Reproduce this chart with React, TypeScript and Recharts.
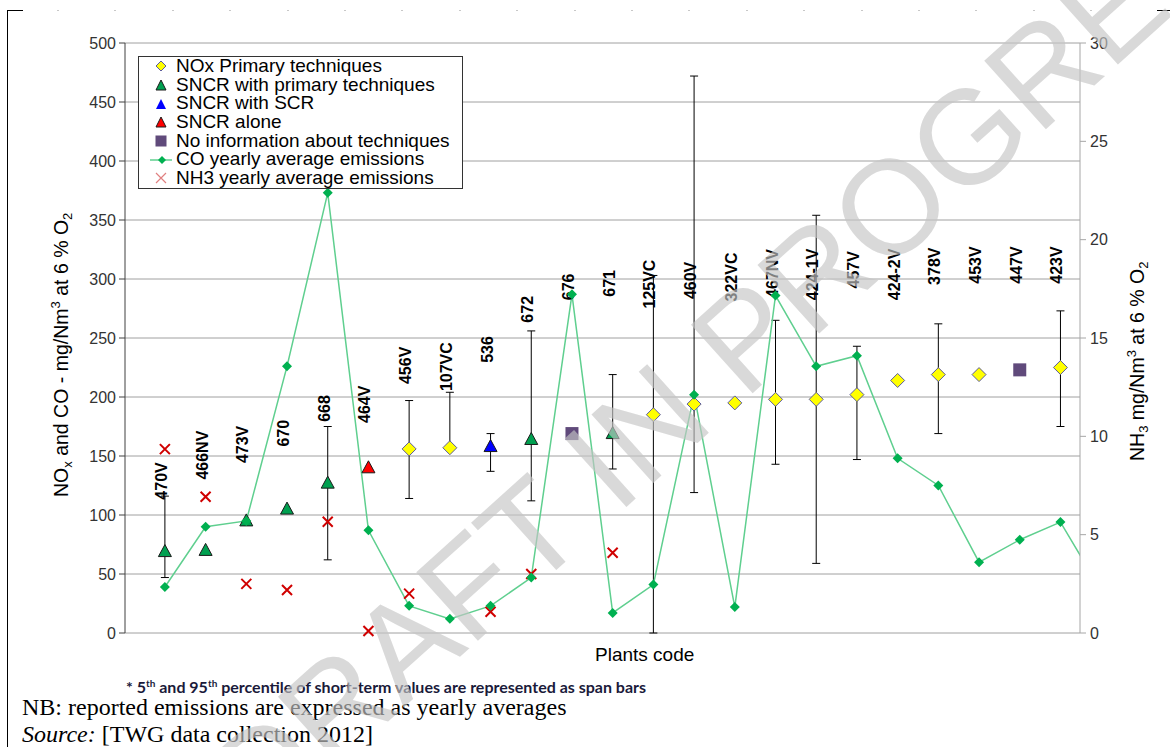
import { ComposedChart, Line, Scatter, XAxis, YAxis, CartesianGrid, ErrorBar } from "recharts";

// plant codes along the x axis, in plotted order
const plants = ["470V", "466NV", "473V", "670", "668", "464V", "456V", "107VC", "536", "672", "676", "671", "125VC", "460V", "322VC", "467NV", "424-1V", "457V", "424-2V", "378V", "453V", "447V", "423V"];
// P = NOx primary, SP = SNCR with primary, SS = SNCR with SCR, SA = SNCR alone, NI = no information
const technique = ["SP", "SP", "SP", "SP", "SP", "SA", "P", "P", "SS", "SP", "NI", "SP", "P", "P", "P", "P", "P", "P", "P", "P", "P", "NI", "P"];
const noxAvg = [69, 70, 95, 105, 127, 140, 156, 157, 158, 164, 169, 169, 185, 194, 195, 198, 198, 202, 214, 219, 219, 223, 225];
const noxP5 = [47, null, null, null, 62, null, 114, 157, 137, 112, null, 139, 0, 119, null, 143, 59, 147, null, 169, null, null, 175];
const noxP95 = [116, null, null, null, 175, null, 197, 204, 169, 256, null, 219, 303, 472, null, 265, 354, 243, null, 262, null, null, 273];
// CO yearly averages; last value belongs to a plant cut off at the right edge
const coAvg = [39, 90, 95, 226, 373, 87, 23, 12, 23, 47, 287, 17, 41, 202, 22, 286, 226, 235, 148, 125, 60, 79, 94, 36];
const nh3Avg = [9.35, 6.93, 2.5, 2.19, 5.66, 0.1, 2.0, null, 1.08, 3.0, null, 4.08, null, null, null, null, null, null, null, null, null, null, null];
// level (left axis units) where each plant code label starts
const labelLevel = [113, 130, 144, 158, 179, 178, 211, 205, 229, 263, 282, 285, 275, 283, 281, 284, 282, 292, 282, 295, 296, 296, 296];

const leftTicks = [0, 50, 100, 150, 200, 250, 300, 350, 400, 450, 500];
const rightTicks = [0, 5, 10, 15, 20, 25, 30];

const coRows = coAvg.map((co, i) => ({ i, co }));
const noxRows = plants.map((plant, i) => ({ i, plant, tech: technique[i], nox: noxAvg[i] }));
const errRows = plants
  .map((plant, i) => ({ i, plant, nox: noxAvg[i], lo: noxP5[i], hi: noxP95[i] }))
  .filter((r) => r.lo != null && r.hi != null)
  .map((r) => ({ i: r.i, nox: r.nox, err: [r.nox - (r.lo as number), (r.hi as number) - r.nox] }));
const nh3Rows = nh3Avg.map((nh3, i) => ({ i, nh3 })).filter((r) => r.nh3 != null);
const labelRows = plants.map((plant, i) => ({ i, plant, lab: labelLevel[i] }));

const ARIAL = "'Liberation Sans', Arial, sans-serif";

const Diamond = ({ cx, cy }: any) => (
  <path d={`M${cx},${cy - 7}L${cx + 7},${cy}L${cx},${cy + 7}L${cx - 7},${cy}Z`} fill="#ffff00" stroke="#5b5b9b" strokeWidth={1} />
);
const tri = (fill: string) => ({ cx, cy }: any) => (
  <path d={`M${cx},${cy - 7}L${cx + 6.5},${cy + 5}L${cx - 6.5},${cy + 5}Z`} fill={fill} stroke="#1a1a1a" strokeWidth={1} />
);
const Square = ({ cx, cy }: any) => <rect x={cx - 6.5} y={cy - 6.5} width={13} height={13} fill="#604a7b" />;
const Cross = ({ cx, cy }: any) => (
  <path d={`M${cx - 5},${cy - 5}L${cx + 5},${cy + 5}M${cx - 5},${cy + 5}L${cx + 5},${cy - 5}`} stroke="#d00000" strokeWidth={2} />
);
const Nothing = () => <g />;
const PlantLabel = ({ cx, cy, payload }: any) => (
  <text x={cx + 2} y={cy} transform={`rotate(-90 ${cx + 2} ${cy})`} fontSize={16} fontWeight="bold" fontFamily={ARIAL} fill="#000">
    {payload.plant}
  </text>
);

const legendItems = [
  { name: "NOx Primary techniques", icon: <path d="M11,5L16,10L11,15L6,10Z" fill="#ffff00" stroke="#5b5b9b" /> },
  { name: "SNCR with primary techniques", icon: <path d="M11,5L16,15L6,15Z" fill="#00a050" stroke="#1a1a1a" /> },
  { name: "SNCR with SCR", icon: <path d="M11,5L16,15L6,15Z" fill="#0000ff" /> },
  { name: "SNCR alone", icon: <path d="M11,5L16,15L6,15Z" fill="#ff0000" stroke="#1a1a1a" /> },
  { name: "No information about techniques", icon: <rect x={5.5} y={4.5} width={11} height={11} fill="#604a7b" /> },
  { name: "CO yearly average emissions", icon: <g><line x1={0} y1={10} x2={24} y2={10} stroke="#5fcf8f" strokeWidth={1.5} /><path d="M12,6L16,10L12,14L8,10Z" fill="#00b050" /></g> },
  { name: "NH3 yearly average emissions", icon: <path d="M6,5L16,15M6,15L16,5" stroke="#e08080" strokeWidth={1.2} /> },
];

export default function App() {
  return (
    <div style={{ position: "absolute", left: 0, top: 0, width: 1170, height: 747, overflow: "hidden", background: "#fff", fontFamily: ARIAL }}>
      {/* page frame */}
      <div style={{ position: "absolute", left: 7, top: 10, width: 1, height: 737, background: "#000" }} />
      <div style={{ position: "absolute", left: 7, top: 10, width: 16, height: 1, background: "#000" }} />
      <div style={{ position: "absolute", left: 1157, top: 10, width: 13, height: 1, background: "#000" }} />
      <div style={{ position: "absolute", left: 57, top: 10, width: 1090, height: 1, backgroundImage: "repeating-linear-gradient(to right, #c8c8c8 0 2px, transparent 2px 57.4px)" }} />

      <div style={{ position: "absolute", left: 0, top: 0 }}>
        <ComposedChart width={1170} height={700} data={coRows} margin={{ top: 43, right: 40, bottom: 67, left: 60 }}>
          <CartesianGrid yAxisId="l" vertical={false} stroke="#a0a0a0" strokeWidth={1} />
          <XAxis type="number" dataKey="i" domain={[-0.98, 22.48]} allowDataOverflow hide />
          <YAxis yAxisId="l" orientation="left" width={65} domain={[0, 500]} ticks={leftTicks} interval={0}
            axisLine={{ stroke: "#404040" }} tickLine={{ stroke: "#404040" }} tickSize={6} tickMargin={3}
            tick={{ fill: "#333", fontSize: 16, fontFamily: ARIAL }} />
          <YAxis yAxisId="r" orientation="right" width={50} domain={[0, 30]} ticks={rightTicks} interval={0}
            axisLine={{ stroke: "#a6a6a6" }} tickLine={{ stroke: "#a6a6a6" }} tickSize={6} tickMargin={4}
            tick={{ fill: "#333", fontSize: 16, fontFamily: ARIAL }} />
          <Scatter yAxisId="l" data={errRows} dataKey="nox" shape={Nothing} isAnimationActive={false} legendType="none">
            <ErrorBar dataKey="err" direction="y" width={4} stroke="#000" strokeWidth={1} />
          </Scatter>
          <Scatter yAxisId="l" data={labelRows} dataKey="lab" shape={PlantLabel} isAnimationActive={false} />
          <Line yAxisId="l" type="linear" dataKey="co" stroke="#5fcf8f" strokeWidth={1.5} isAnimationActive={false}
            dot={(p: any) => <path key={`co-${p.index}`} d={`M${p.cx},${p.cy - 5}L${p.cx + 5},${p.cy}L${p.cx},${p.cy + 5}L${p.cx - 5},${p.cy}Z`} fill="#00b050" />}
            activeDot={false} />
          <Scatter yAxisId="l" data={noxRows.filter((r) => r.tech === "P")} dataKey="nox" shape={Diamond} isAnimationActive={false} />
          <Scatter yAxisId="l" data={noxRows.filter((r) => r.tech === "SP")} dataKey="nox" shape={tri("#00a050")} isAnimationActive={false} />
          <Scatter yAxisId="l" data={noxRows.filter((r) => r.tech === "SS")} dataKey="nox" shape={tri("#0000ff")} isAnimationActive={false} />
          <Scatter yAxisId="l" data={noxRows.filter((r) => r.tech === "SA")} dataKey="nox" shape={tri("#ff0000")} isAnimationActive={false} />
          <Scatter yAxisId="l" data={noxRows.filter((r) => r.tech === "NI")} dataKey="nox" shape={Square} isAnimationActive={false} />
          <Scatter yAxisId="r" data={nh3Rows} dataKey="nh3" shape={Cross} isAnimationActive={false} />
        </ComposedChart>
      </div>

      {/* legend */}
      <div style={{ position: "absolute", left: 138, top: 56, width: 323, border: "1px solid #333", background: "#fff", fontSize: 19, lineHeight: "18.67px", color: "#000" }}>
        {legendItems.map((it) => (
          <div key={it.name} style={{ display: "flex", alignItems: "center", height: 18.67, whiteSpace: "nowrap" }}>
            <svg width={22} height={20} style={{ marginLeft: 11, marginRight: 4, flex: "none" }}>{it.icon}</svg>
            <span>{it.name}</span>
          </div>
        ))}
      </div>

      {/* axis titles */}
      <div style={{ position: "absolute", left: 46, top: 497, transformOrigin: "0 0", transform: "rotate(-90deg)", whiteSpace: "nowrap", fontSize: 19.5, lineHeight: "19.5px", color: "#000" }}>
        NO<sub style={{ fontSize: 13 }}>x</sub> and CO - mg/Nm<sup style={{ fontSize: 13 }}>3</sup> at 6 % O<sub style={{ fontSize: 13 }}>2</sub>
      </div>
      <div style={{ position: "absolute", left: 1122, top: 461, transformOrigin: "0 0", transform: "rotate(-90deg)", whiteSpace: "nowrap", fontSize: 19.5, lineHeight: "19.5px", color: "#000" }}>
        NH<sub style={{ fontSize: 13 }}>3</sub> mg/Nm<sup style={{ fontSize: 13 }}>3</sup> at 6 % O<sub style={{ fontSize: 13 }}>2</sub>
      </div>
      <div style={{ position: "absolute", left: 595, top: 645, fontSize: 19, lineHeight: "19px", whiteSpace: "nowrap", color: "#000" }}>Plants code</div>

      {/* notes */}
      <div style={{ position: "absolute", left: 126, top: 675, fontFamily: "Lato, 'Open Sans', sans-serif", fontWeight: "bold", fontSize: 16, lineHeight: "16px", color: "#1a1a3a", whiteSpace: "nowrap" }}>
        * 5<sup style={{ fontSize: 10 }}>th</sup> and 95<sup style={{ fontSize: 10 }}>th</sup> percentile of short-term values are represented as span bars
      </div>
      <div style={{ position: "absolute", left: 22, top: 694, fontFamily: "'Liberation Serif', 'Times New Roman', serif", fontSize: 24, lineHeight: "27px", color: "#000", whiteSpace: "nowrap" }}>
        <div>NB: reported emissions are expressed as yearly averages</div>
        <div><i>Source:</i> [TWG data collection 2012]</div>
      </div>

      {/* watermark */}
      <svg width={1170} height={747} style={{ position: "absolute", left: 0, top: 0, pointerEvents: "none" }}>
        <text x={752} y={329} dy="0.36em" textAnchor="middle" transform="rotate(-42 752 329)" fontSize={134} fontFamily={ARIAL} fill="#c5c5c5" fillOpacity={0.65}>
          DRAFT IN PROGRESS
        </text>
      </svg>
    </div>
  );
}
